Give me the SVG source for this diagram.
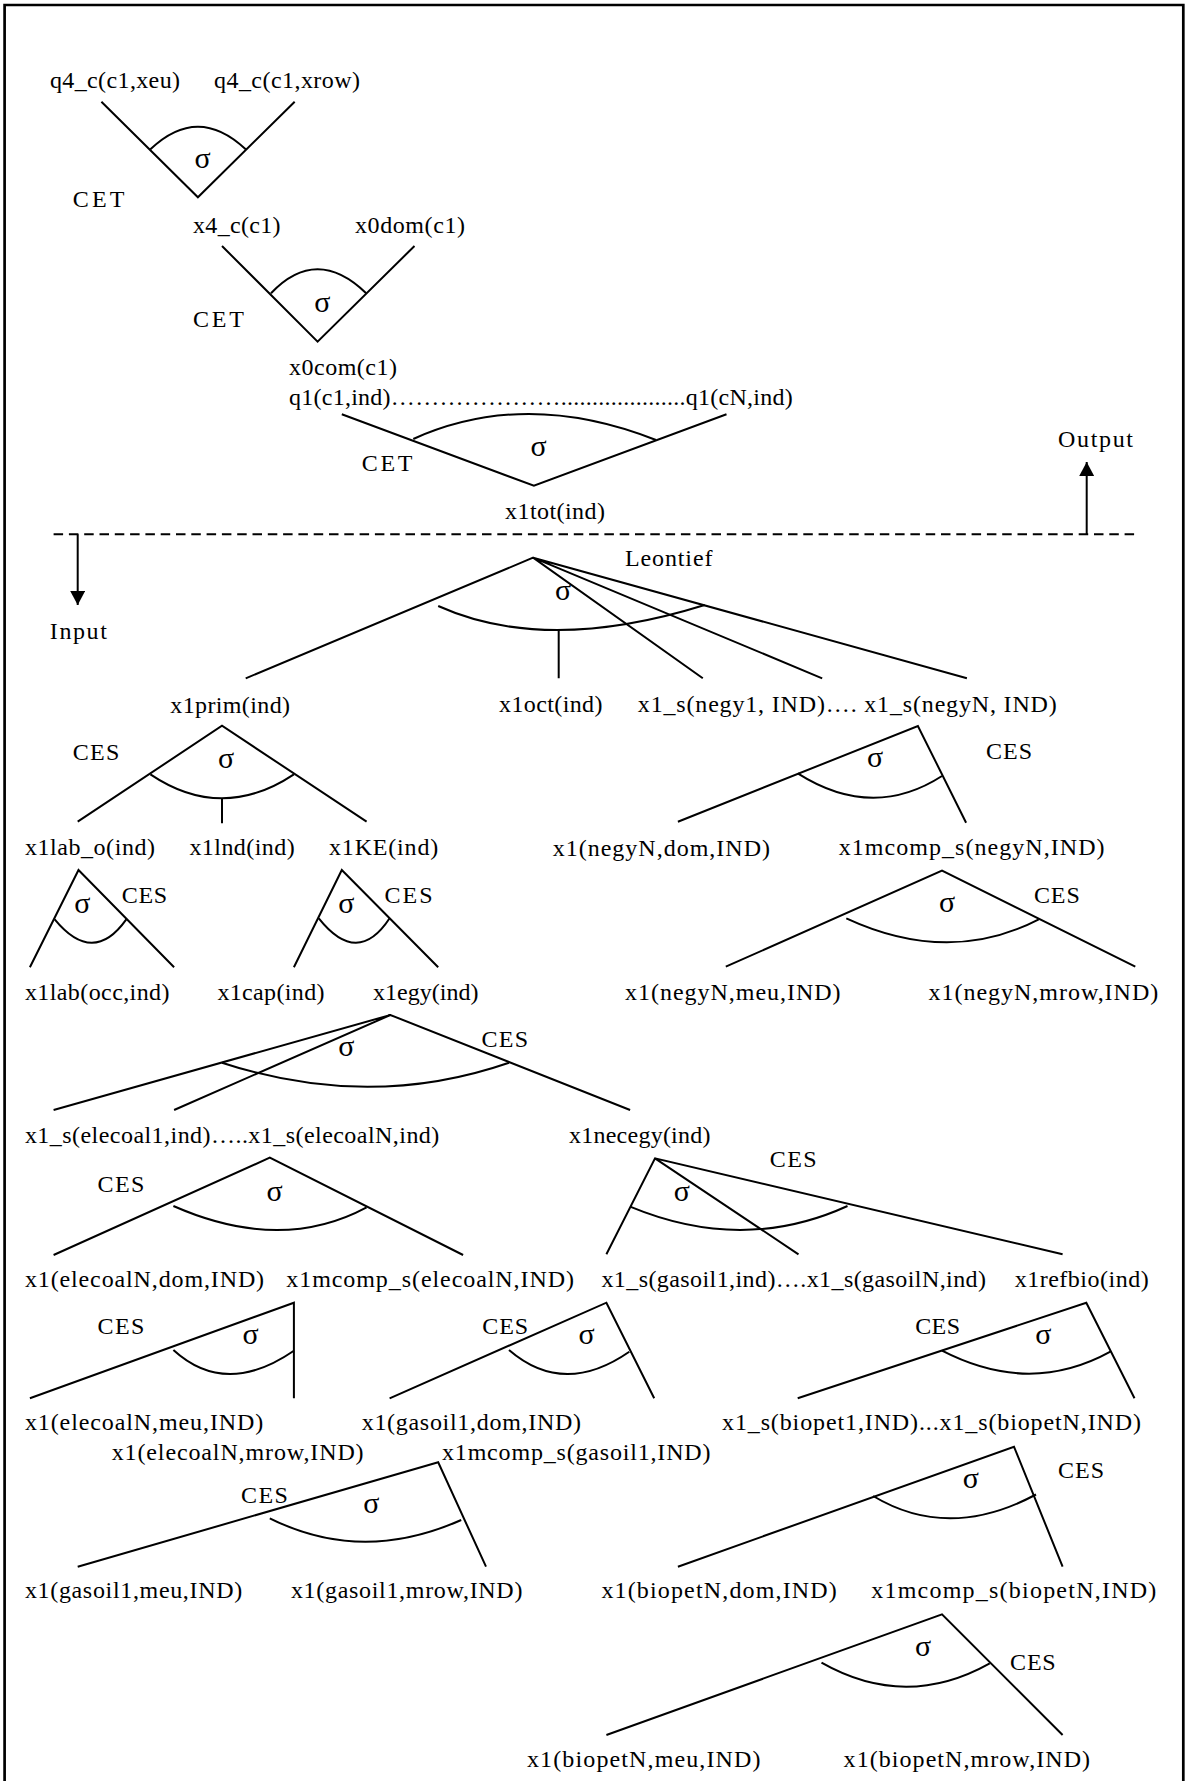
<svg xmlns="http://www.w3.org/2000/svg" width="1188" height="1781" viewBox="0 0 1188 1781">
<defs>
<style>
text{font-family:"Liberation Serif","Times New Roman",serif;font-size:24px;fill:#000}
.s{font-size:30px;text-anchor:middle}
.ln{fill:none;stroke:#000;stroke-width:2;stroke-linejoin:miter}
.arc{fill:none;stroke:#000;stroke-width:2}
</style>
<marker id="ah" viewBox="0 0 14 15" refX="14" refY="7.5" markerWidth="14" markerHeight="15" markerUnits="userSpaceOnUse" orient="auto"><path d="M0,0 L14,7.5 L0,15 Z" fill="#000"/></marker>
</defs>
<rect width="1188" height="1781" fill="#fff"/>
<g id="frame">
<path d="M4.6,1781 V5 H1183.3 V1781" fill="none" stroke="#000" stroke-width="2.7"/>
<line x1="53.6" y1="534.3" x2="1135" y2="534.3" stroke="#000" stroke-width="2" stroke-dasharray="9.5 5.8"/>
<line x1="1086.7" y1="534.3" x2="1086.7" y2="462" stroke="#000" stroke-width="2" marker-end="url(#ah)"/>
<line x1="77.7" y1="534.3" x2="77.7" y2="605" stroke="#000" stroke-width="2" marker-end="url(#ah)"/>
<text id="t-output" x="1058" y="446.7" textLength="75">Output</text>
<text id="t-input" x="49.8" y="639.3" textLength="57">Input</text>
</g>
<g id="connectors">
<path class="ln" d="M101.4,101.7 L197.9,197.3 L294.7,101.7"/>
<path class="arc" d="M150.4,149.3 Q197.75,104.1 245.7,149.3"/>
<path class="ln" d="M222,246 L317.6,341.7 L414.5,246"/>
<path class="arc" d="M271,293.3 Q316.6,245.3 366.2,293.3"/>
<path class="ln" d="M341.8,414.3 L533.9,485.7 L726.5,414.3"/>
<path class="arc" d="M413.3,439 Q525.35,388.5 656,440"/>
<path class="ln" d="M245.7,678.3 L533.1,557.7 L702.8,678.3 M533.1,557.7 L822.2,678.3 M533.1,557.7 L966.9,678.3 M558.7,630 V678.3"/>
<path class="arc" d="M438.2,606 Q545.95,654.5 704.7,605"/>
<path class="ln" d="M77.7,821.7 L222,725.7 L366.6,821.7 M222,798.3 V823.3"/>
<path class="arc" d="M150.4,774.3 Q221.85,822.3 293.9,774.3"/>
<path class="ln" d="M677.9,821.7 L917.9,726 L966.1,822.7"/>
<path class="arc" d="M797.7,773.3 Q872.55,820.75 942,776"/>
<path class="ln" d="M29.9,967.3 L78.5,870 L174.1,967.3"/>
<path class="arc" d="M54.7,919.3 Q93.1,966.1 126.3,919.3"/>
<path class="ln" d="M293.9,967.3 L341.8,870 L438.2,967.3"/>
<path class="arc" d="M318.8,918.3 Q357.6,967.1 389.6,918.3"/>
<path class="ln" d="M725.8,966.7 L942,870.7 L1135.3,966.7"/>
<path class="arc" d="M846.3,918.3 Q949.05,965.8 1038.8,919.3"/>
<path class="ln" d="M53.6,1110 L390.4,1015 L630.1,1110 M390.4,1015 L174.1,1110"/>
<path class="arc" d="M222,1062.7 Q369.3,1111 509,1062.7"/>
<path class="ln" d="M53.6,1255 L269.8,1157.7 L463.1,1255"/>
<path class="arc" d="M173.4,1206 Q281,1253.35 366.6,1207.3"/>
<path class="ln" d="M606.4,1254.3 L655,1158.3 L1062.6,1254.3 M655,1158.3 L798.5,1254.3"/>
<path class="arc" d="M630.1,1206.7 Q743.2,1253.65 847.5,1206"/>
<path class="ln" d="M29.9,1398.3 L293.9,1302.7 V1398.3"/>
<path class="arc" d="M173.4,1350 Q225.55,1397.65 293.9,1350.7"/>
<path class="ln" d="M389.6,1398.3 L606.4,1302.7 L654.2,1398.3"/>
<path class="arc" d="M509,1350 Q563.65,1397.15 629.3,1351.7"/>
<path class="ln" d="M797.7,1398.3 L1086.3,1302.7 L1134.5,1398.3"/>
<path class="arc" d="M942,1350.7 Q1030,1396.1 1110.4,1351.7"/>
<path class="ln" d="M77.7,1566.7 L438.2,1462.3 L486,1566.7"/>
<path class="arc" d="M269.8,1518.3 Q361.7,1564.25 461.2,1520"/>
<path class="ln" d="M677.9,1566.7 L1014,1446.7 L1062.6,1566.7"/>
<path class="arc" d="M873.1,1496 Q948.65,1541.35 1036,1494.5"/>
<path class="ln" d="M606.4,1735 L942,1614.3 L1062.6,1735"/>
<path class="arc" d="M821.5,1662.7 Q905.55,1710.4 989.8,1663.3"/>
</g>
<g id="nest-sigma">
<text class="s" x="202.6" y="168">σ</text>
<text class="s" x="322.4" y="311.7">σ</text>
<text class="s" x="538.7" y="456">σ</text>
<text class="s" x="563" y="600">σ</text>
<text class="s" x="226" y="768.3">σ</text>
<text class="s" x="875" y="767.3">σ</text>
<text class="s" x="82.3" y="912.7">σ</text>
<text class="s" x="346.3" y="912.7">σ</text>
<text class="s" x="947.2" y="912.3">σ</text>
<text class="s" x="346.3" y="1055.7">σ</text>
<text class="s" x="274.6" y="1200.7">σ</text>
<text class="s" x="681.8" y="1200.7">σ</text>
<text class="s" x="250.5" y="1344">σ</text>
<text class="s" x="586.5" y="1344">σ</text>
<text class="s" x="1043.4" y="1344.3">σ</text>
<text class="s" x="371.4" y="1513.3">σ</text>
<text class="s" x="970.9" y="1488.3">σ</text>
<text class="s" x="923" y="1655.7">σ</text>
</g>
<g id="nest-type">
<text x="72.7" y="206.7" textLength="51.7">CET</text>
<text x="193" y="326.7" textLength="50.8">CET</text>
<text x="361.7" y="471" textLength="50.8">CET</text>
<text x="625" y="566" textLength="87.4">Leontief</text>
<text x="72.7" y="760" textLength="46.7">CES</text>
<text x="986" y="759.3" textLength="46">CES</text>
<text x="121.7" y="903.3" textLength="45.5">CES</text>
<text x="384.6" y="903.3" textLength="47.9">CES</text>
<text x="1033.9" y="903.3" textLength="45.9">CES</text>
<text x="481.4" y="1046.7" textLength="46.7">CES</text>
<text x="97.6" y="1191.7" textLength="46.7">CES</text>
<text x="769.8" y="1166.7" textLength="46.7">CES</text>
<text x="97.6" y="1334.3" textLength="46.7">CES</text>
<text x="482.2" y="1334.3" textLength="45.9">CES</text>
<text x="915.2" y="1334.3" textLength="44.8">CES</text>
<text x="1058" y="1478.3" textLength="46">CES</text>
<text x="241.1" y="1502.7" textLength="46.7">CES</text>
<text x="1010.1" y="1670" textLength="45.6">CES</text>
</g>
<g id="n-q4eu"><text x="50" y="88" textLength="130">q4_c(c1,xeu)</text></g>
<g id="n-q4row"><text x="214" y="88" textLength="146">q4_c(c1,xrow)</text></g>
<g id="n-x4c"><text x="193" y="233" textLength="87.5">x4_c(c1)</text></g>
<g id="n-x0dom"><text x="355" y="233" textLength="110">x0dom(c1)</text></g>
<g id="n-x0com"><text x="289" y="375" textLength="108">x0com(c1)</text></g>
<g id="n-q1"><text x="289" y="405" textLength="503.7">q1(c1,ind)…………………....................q1(cN,ind)</text></g>
<g id="n-x1tot"><text x="505" y="519.3" textLength="100">x1tot(ind)</text></g>
<g id="n-x1prim"><text x="170.3" y="712.5" textLength="119.7">x1prim(ind)</text></g>
<g id="n-x1oct"><text x="499" y="711.7" textLength="103.5">x1oct(ind)</text></g>
<g id="n-x1snegy"><text x="637.8" y="711.7" textLength="419">x1_s(negy1, IND)…. x1_s(negyN, IND)</text></g>
<g id="n-x1labo"><text x="24.9" y="855" textLength="130.1">x1lab_o(ind)</text></g>
<g id="n-x1lnd"><text x="189.4" y="855" textLength="105.3">x1lnd(ind)</text></g>
<g id="n-x1KE"><text x="329" y="855" textLength="109.2">x1KE(ind)</text></g>
<g id="n-negydom"><text x="552.7" y="856" textLength="217.3">x1(negyN,dom,IND)</text></g>
<g id="n-negymcomp"><text x="838.7" y="855" textLength="265.9">x1mcomp_s(negyN,IND)</text></g>
<g id="n-x1lab"><text x="24.9" y="1000" textLength="144.6">x1lab(occ,ind)</text></g>
<g id="n-x1cap"><text x="217.4" y="1000" textLength="107.1">x1cap(ind)</text></g>
<g id="n-x1egy"><text x="373.1" y="1000" textLength="105.3">x1egy(ind)</text></g>
<g id="n-negymeu"><text x="625.1" y="1000" textLength="215.5">x1(negyN,meu,IND)</text></g>
<g id="n-negymrow"><text x="928.6" y="1000" textLength="229.6">x1(negyN,mrow,IND)</text></g>
<g id="n-elecoal"><text x="24.9" y="1143.3" textLength="414.4">x1_s(elecoal1,ind)…..x1_s(elecoalN,ind)</text></g>
<g id="n-necegy"><text x="569" y="1143.3" textLength="141.5">x1necegy(ind)</text></g>
<g id="n-elecoaldom"><text x="24.9" y="1286.7" textLength="239.2">x1(elecoalN,dom,IND)</text></g>
<g id="n-elecoalmcomp"><text x="286.3" y="1286.7" textLength="287.7">x1mcomp_s(elecoalN,IND)</text></g>
<g id="n-gasoil"><text x="601.4" y="1286.7" textLength="384.6">x1_s(gasoil1,ind)….x1_s(gasoilN,ind)</text></g>
<g id="n-refbio"><text x="1014.7" y="1286.7" textLength="134">x1refbio(ind)</text></g>
<g id="n-elecoalmeu"><text x="24.9" y="1430" textLength="238.4">x1(elecoalN,meu,IND)</text></g>
<g id="n-gasoildom"><text x="361.7" y="1430" textLength="219.3">x1(gasoil1,dom,IND)</text></g>
<g id="n-biopet"><text x="722" y="1430" textLength="419">x1_s(biopet1,IND)...x1_s(biopetN,IND)</text></g>
<g id="n-elecoalmrow"><text x="111.7" y="1460" textLength="251.9">x1(elecoalN,mrow,IND)</text></g>
<g id="n-gasoilmcomp"><text x="442" y="1460" textLength="268.5">x1mcomp_s(gasoil1,IND)</text></g>
<g id="n-gasoilmeu"><text x="24.9" y="1598.3" textLength="217.3">x1(gasoil1,meu,IND)</text></g>
<g id="n-gasoilmrow"><text x="290.9" y="1598.3" textLength="231.5">x1(gasoil1,mrow,IND)</text></g>
<g id="n-biopetdom"><text x="601.4" y="1598.3" textLength="235.4">x1(biopetN,dom,IND)</text></g>
<g id="n-biopetmcomp"><text x="871.2" y="1598.3" textLength="285.1">x1mcomp_s(biopetN,IND)</text></g>
<g id="n-biopetmeu"><text x="527" y="1767" textLength="233.5">x1(biopetN,meu,IND)</text></g>
<g id="n-biopetmrow"><text x="843.6" y="1767" textLength="246.5">x1(biopetN,mrow,IND)</text></g>
</svg>
